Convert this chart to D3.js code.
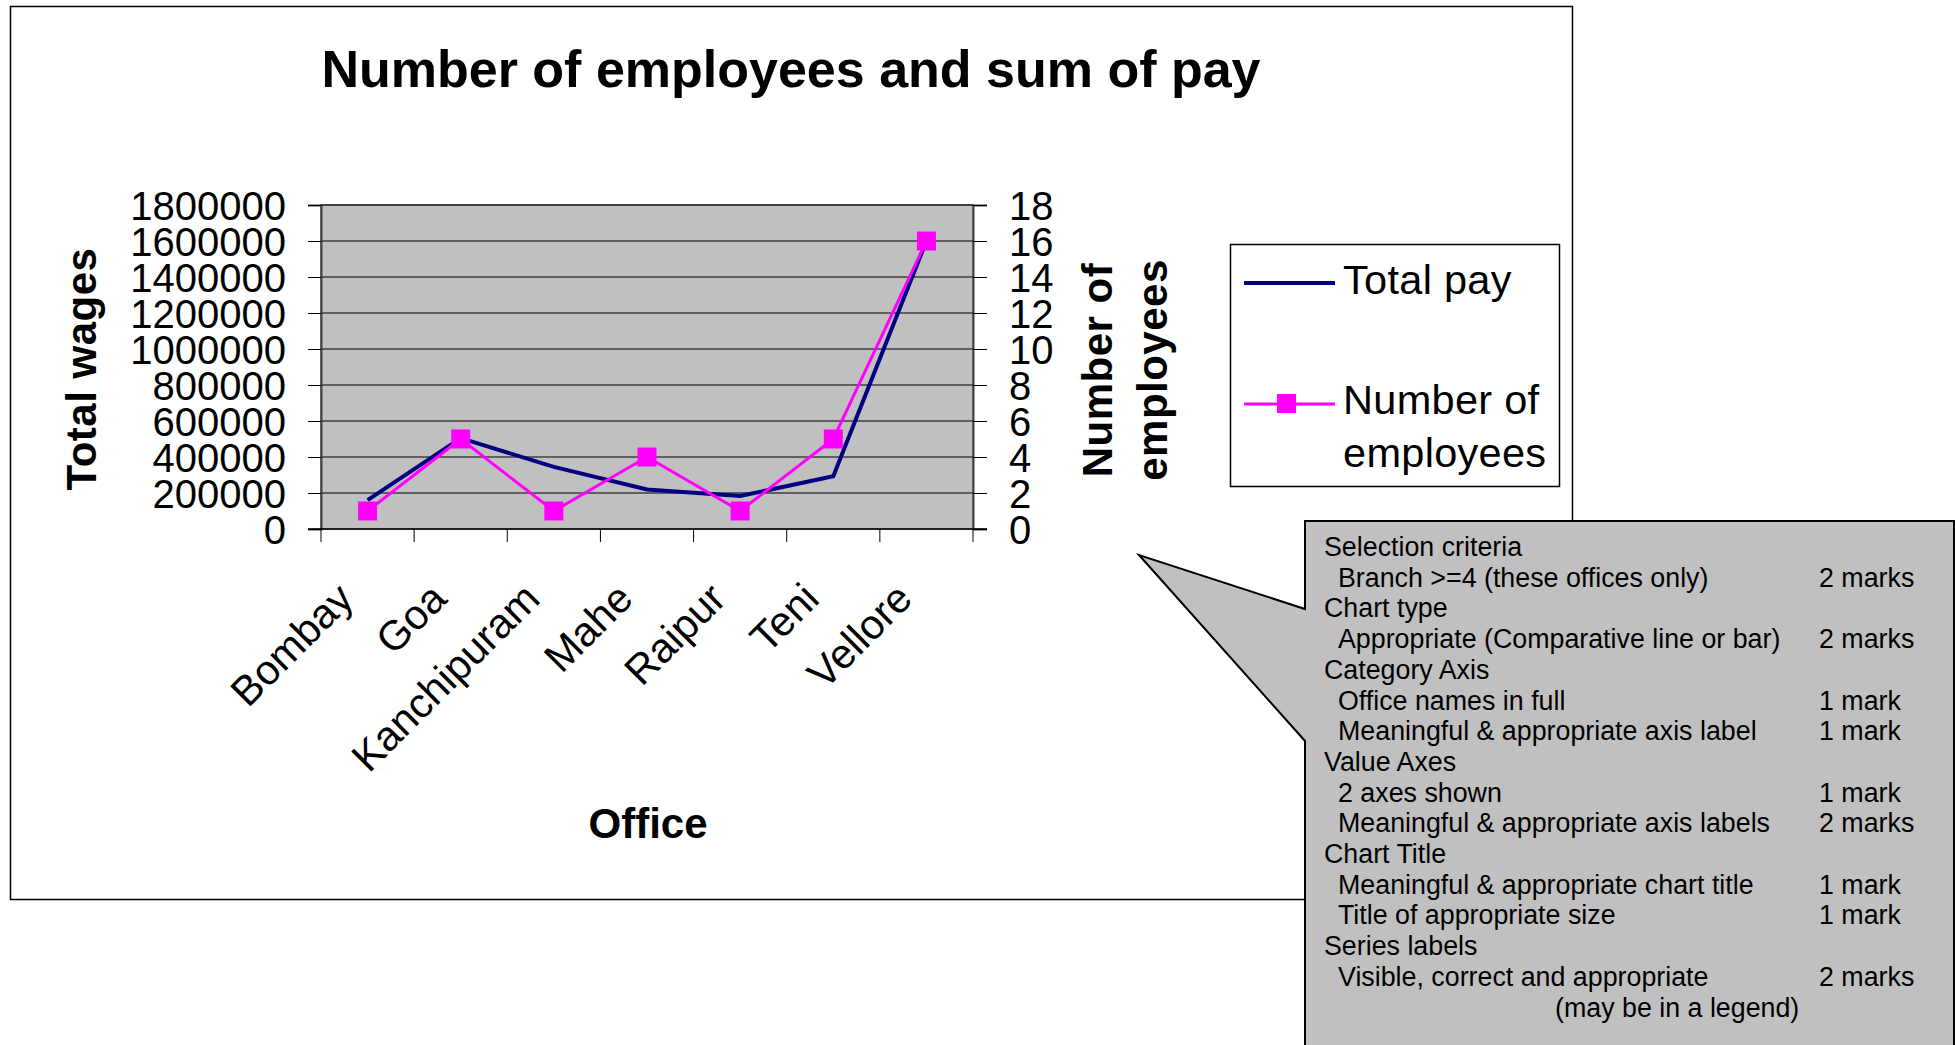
<!DOCTYPE html>
<html>
<head>
<meta charset="utf-8">
<script src="https://d3js.org/d3.v7.min.js"></script>
<style>
  body { margin: 0; background: #fff; }
  text { font-family: "Liberation Sans", Arial, sans-serif; fill: #000; }
</style>
</head>
<body>
<div id="svgcontainer"></div>
<script>
// chart data
var offices = ["Bombay", "Goa", "Kanchipuram", "Mahe", "Raipur", "Teni", "Vellore"];
var totalPay = [160000, 505000, 345000, 220000, 183000, 293000, 1600000];
var employees = [1, 5, 1, 4, 1, 5, 16];
var payTicks = [0, 200000, 400000, 600000, 800000, 1000000, 1200000, 1400000, 1600000, 1800000];
var empTicks = [0, 2, 4, 6, 8, 10, 12, 14, 16, 18];

var criteria = [
  ["Selection criteria", ""],
  ["  Branch >=4 (these offices only)", "2 marks"],
  ["Chart type", ""],
  ["  Appropriate (Comparative line or bar)", "2 marks"],
  ["Category Axis", ""],
  ["  Office names in full", "1 mark"],
  ["  Meaningful & appropriate axis label", "1 mark"],
  ["Value Axes", ""],
  ["  2 axes shown", "1 mark"],
  ["  Meaningful & appropriate axis labels", "2 marks"],
  ["Chart Title", ""],
  ["  Meaningful & appropriate chart title", "1 mark"],
  ["  Title of appropriate size", "1 mark"],
  ["Series labels", ""],
  ["  Visible, correct and appropriate", "2 marks"],
  ["(may be in a legend)", ""]
];

var svgWidth = 1955;
var svgHeight = 1045;

// plot area inside the chart box
var plot = { left: 321, top: 205, right: 973, bottom: 529 };

var svg = d3.select("#svgcontainer")
  .append("svg")
  .attr("width", svgWidth)
  .attr("height", svgHeight);

// outer chart border
svg.append("rect")
  .attr("x", 10.5)
  .attr("y", 6.5)
  .attr("width", 1562)
  .attr("height", 893)
  .attr("fill", "#fff")
  .attr("stroke", "#000")
  .attr("stroke-width", 1.5);

svg.append("text")
  .attr("x", 791)
  .attr("y", 87)
  .attr("text-anchor", "middle")
  .attr("font-size", 52)
  .attr("font-weight", "bold")
  .text("Number of employees and sum of pay");

// scales
var xScale = d3.scaleBand()
  .domain(offices)
  .range([plot.left, plot.right]);

var yPay = d3.scaleLinear()
  .domain([0, 1800000])
  .range([plot.bottom, plot.top]);

var yEmp = d3.scaleLinear()
  .domain([0, 18])
  .range([plot.bottom, plot.top]);

// plot background
svg.append("rect")
  .attr("x", plot.left)
  .attr("y", plot.top)
  .attr("width", plot.right - plot.left)
  .attr("height", plot.bottom - plot.top)
  .attr("fill", "#c0c0c0")
  .attr("stroke", "#808080")
  .attr("stroke-width", 2);

// gridlines
svg.append("g")
  .selectAll("line")
  .data(payTicks.slice(1))
  .enter()
  .append("line")
  .attr("x1", plot.left)
  .attr("x2", plot.right)
  .attr("y1", d => yPay(d))
  .attr("y2", d => yPay(d))
  .attr("stroke", "#000")
  .attr("stroke-width", 1);

// left axis
var leftAxis = svg.append("g")
  .attr("transform", `translate(${plot.left}, 0)`)
  .call(d3.axisLeft(yPay).tickValues(payTicks).tickFormat(d3.format("d")).tickSizeOuter(0).tickSize(13).tickPadding(22));
leftAxis.selectAll("text").attr("font-size", 40).attr("dy", "0.35em");

// right axis
var rightAxis = svg.append("g")
  .attr("transform", `translate(${plot.right}, 0)`)
  .call(d3.axisRight(yEmp).tickValues(empTicks).tickSizeOuter(0).tickSize(14).tickPadding(22));
rightAxis.selectAll("text").attr("font-size", 40).attr("dy", "0.35em");

[leftAxis, rightAxis].forEach(function (g) {
  g.select(".domain").attr("stroke", "#404040").attr("stroke-width", 2);
  g.selectAll(".tick line").attr("stroke", "#000");
  g.selectAll("text").attr("font-family", "Liberation Sans, Arial, sans-serif").attr("fill", "#000");
});

// category axis: line, boundary ticks, rotated labels
svg.append("line")
  .attr("x1", plot.left - 13)
  .attr("x2", plot.right + 14)
  .attr("y1", plot.bottom)
  .attr("y2", plot.bottom)
  .attr("stroke", "#000")
  .attr("stroke-width", 1.5);

var bounds = offices.map(d => xScale(d)).concat([plot.right]);
svg.append("g")
  .selectAll("line")
  .data(bounds)
  .enter()
  .append("line")
  .attr("x1", d => d)
  .attr("x2", d => d)
  .attr("y1", plot.bottom)
  .attr("y2", plot.bottom + 13)
  .attr("stroke", "#000")
  .attr("stroke-width", 1);

svg.append("g")
  .selectAll("text")
  .data(offices)
  .enter()
  .append("text")
  .attr("transform", d => `translate(${xScale(d) + xScale.bandwidth() / 2 - 12}, 601) rotate(-45)`)
  .attr("text-anchor", "end")
  .attr("font-size", 41.5)
  .text(d => d);

// axis titles
svg.append("text")
  .attr("transform", "translate(96, 369) rotate(-90)")
  .attr("text-anchor", "middle")
  .attr("font-size", 42)
  .attr("font-weight", "bold")
  .attr("letter-spacing", 0.5)
  .text("Total wages");

var rightTitle = svg.append("text")
  .attr("transform", "translate(1112, 370) rotate(-90)")
  .attr("text-anchor", "middle")
  .attr("font-size", 42)
  .attr("font-weight", "bold")
  .attr("letter-spacing", 0.5);
rightTitle.append("tspan").attr("x", 0).attr("y", 0).text("Number of");
rightTitle.append("tspan").attr("x", 0).attr("y", 55).text("employees");

svg.append("text")
  .attr("x", 648)
  .attr("y", 838)
  .attr("text-anchor", "middle")
  .attr("font-size", 42)
  .attr("font-weight", "bold")
  .text("Office");

// series lines
var payLine = d3.line()
  .x((d, i) => xScale(offices[i]) + xScale.bandwidth() / 2)
  .y(d => yPay(d));

var empLine = d3.line()
  .x((d, i) => xScale(offices[i]) + xScale.bandwidth() / 2)
  .y(d => yEmp(d));

svg.append("path")
  .datum(totalPay)
  .attr("d", payLine)
  .attr("fill", "none")
  .attr("stroke", "#000080")
  .attr("stroke-width", 4);

svg.append("path")
  .datum(employees)
  .attr("d", empLine)
  .attr("fill", "none")
  .attr("stroke", "#ff00ff")
  .attr("stroke-width", 3);

svg.append("g")
  .selectAll("rect")
  .data(employees)
  .enter()
  .append("rect")
  .attr("x", (d, i) => xScale(offices[i]) + xScale.bandwidth() / 2 - 9.5)
  .attr("y", d => yEmp(d) - 9.5)
  .attr("width", 19)
  .attr("height", 19)
  .attr("fill", "#ff00ff");

// legend
var legend = svg.append("g");
legend.append("rect")
  .attr("x", 1230.5)
  .attr("y", 244.5)
  .attr("width", 329)
  .attr("height", 242)
  .attr("fill", "#fff")
  .attr("stroke", "#000")
  .attr("stroke-width", 1.5);

legend.append("line")
  .attr("x1", 1244).attr("x2", 1335)
  .attr("y1", 283).attr("y2", 283)
  .attr("stroke", "#000080")
  .attr("stroke-width", 4);
legend.append("text")
  .attr("x", 1343)
  .attr("y", 294)
  .attr("font-size", 41.5)
  .attr("letter-spacing", 0.3)
  .text("Total pay");

legend.append("line")
  .attr("x1", 1244).attr("x2", 1335)
  .attr("y1", 404).attr("y2", 404)
  .attr("stroke", "#ff00ff")
  .attr("stroke-width", 3);
legend.append("rect")
  .attr("x", 1277).attr("y", 394)
  .attr("width", 19).attr("height", 19)
  .attr("fill", "#ff00ff");
var legText = legend.append("text").attr("font-size", 41.5).attr("letter-spacing", 0.3);
legText.append("tspan").attr("x", 1343).attr("y", 414).text("Number of");
legText.append("tspan").attr("x", 1343).attr("y", 467).text("employees");

// marking callout
svg.append("path")
  .attr("d", "M1305,521 L1954,521 L1954,1050 L1305,1050 L1305,741 L1139,555 L1305,609 Z")
  .attr("fill", "#c0c0c0")
  .attr("stroke", "#000")
  .attr("stroke-width", 2)
  .attr("stroke-linejoin", "miter");

var notes = svg.append("g");
notes.selectAll(".crit")
  .data(criteria)
  .enter()
  .append("text")
  .attr("class", "crit")
  .attr("x", (d, i) => i === criteria.length - 1 ? 1555 : (d[0].startsWith("  ") ? 1338 : 1324))
  .attr("y", (d, i) => 556 + i * 30.7)
  .attr("font-size", 26.8)
  .text(d => d[0].trim());

notes.selectAll(".mark")
  .data(criteria.filter(d => d[1] !== ""))
  .enter()
  .append("text")
  .attr("class", "mark")
  .attr("x", 1819)
  .attr("y", d => 556 + criteria.indexOf(d) * 30.7)
  .attr("font-size", 26.8)
  .text(d => d[1]);
</script>
</body>
</html>
